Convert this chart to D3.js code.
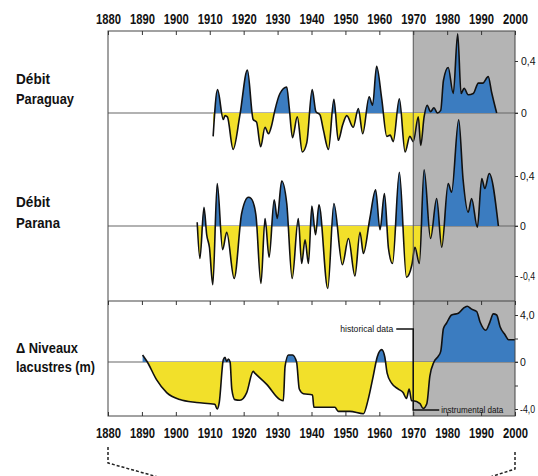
<!DOCTYPE html>
<html>
<head>
<meta charset="utf-8">
<script src="https://cdn.jsdelivr.net/npm/d3@7"></script>
<style>
  body { margin: 0; background: #fff; }
  svg { display: block; }
  .lbl { font-family: "Liberation Sans", Arial, sans-serif; font-weight: bold; font-size: 15px; fill: #111; }
  .axis text { font-family: "Liberation Sans", Arial, sans-serif; }
  .yr text { font-weight: bold; font-size: 15px; fill: #111; }
  .rt text { font-size: 10.5px; fill: #111; }
  .note { font-family: "Liberation Sans", Arial, sans-serif; font-size: 9.5px; fill: #111; }
</style>
</head>
<body>
<div class="chart"></div>
<script>
// data
var paraguayYears = [1911.0, 1912.3, 1914.0, 1914.5, 1915.2, 1916.9, 1918.9, 1921.1, 1922.8, 1923.8, 1925.0, 1926.3, 1927.3, 1928.3, 1929.2, 1930.7, 1932.7, 1933.4, 1934.4, 1935.8, 1937.3, 1938.6, 1940.2, 1941.3, 1942.5, 1943.5, 1945.0, 1946.6, 1947.9, 1949.2, 1950.4, 1952.3, 1953.8, 1955.1, 1957.0, 1958.0, 1959.2, 1960.7, 1962.2, 1963.2, 1964.1, 1965.9, 1967.6, 1969.0, 1970.0, 1971.5, 1972.2, 1973.2, 1974.1, 1975.1, 1976.1, 1977.1, 1978.1, 1978.9, 1980.3, 1981.8, 1983.1, 1984.1, 1985.0, 1986.2, 1987.7, 1989.2, 1990.5, 1992.1, 1993.1, 1994.6];
var paraguayFlow = [-0.18, 0.18, -0.05, -0.02, -0.03, -0.28, -0.015, 0.33, -0.05, -0.07, -0.26, -0.11, -0.16, -0.09, 0.02, 0.15, 0.20, 0.05, -0.19, -0.03, -0.30, -0.23, 0.18, 0.01, -0.015, -0.13, -0.28, 0.105, -0.21, -0.09, -0.02, -0.11, 0.035, -0.16, 0.125, 0.06, 0.36, 0.11, -0.18, -0.17, -0.22, 0.11, -0.30, -0.18, -0.22, -0.03, -0.25, -0.03, 0.06, 0.01, 0.04, 0.0, 0.02, 0.25, 0.35, 0.15, 0.61, 0.15, 0.19, 0.14, 0.15, 0.23, 0.23, 0.28, 0.16, 0.0];

var paranaYears = [1906.3, 1907.1, 1908.3, 1909.1, 1909.9, 1910.9, 1912.2, 1913.8, 1915.0, 1917.2, 1919.4, 1921.4, 1922.2, 1923.6, 1925.1, 1926.3, 1927.5, 1929.0, 1929.9, 1931.2, 1932.7, 1934.3, 1936.1, 1937.1, 1938.1, 1939.1, 1940.1, 1941.2, 1942.2, 1944.8, 1946.6, 1949.1, 1950.9, 1952.8, 1954.3, 1955.3, 1957.2, 1958.9, 1960.2, 1961.5, 1962.7, 1963.9, 1965.9, 1968.0, 1969.6, 1970.5, 1971.8, 1973.2, 1975.1, 1976.9, 1978.4, 1980.3, 1981.3, 1983.4, 1984.7, 1986.2, 1987.2, 1988.9, 1990.2, 1991.1, 1992.4, 1995.1];
var paranaFlow = [0.03, -0.26, 0.15, -0.07, -0.17, -0.47, 0.34, -0.19, -0.05, -0.42, 0.10, 0.23, 0.22, 0.09, -0.46, 0.06, -0.25, 0.21, 0.06, 0.36, 0.18, -0.42, 0.06, -0.30, -0.11, -0.30, 0.16, -0.07, 0.17, -0.50, 0.18, -0.31, -0.10, -0.40, -0.05, -0.22, 0.06, 0.29, -0.03, 0.26, -0.18, -0.30, 0.43, -0.41, -0.31, -0.17, -0.30, 0.45, -0.10, 0.22, -0.17, 0.34, 0.27, 0.85, 0.37, 0.11, 0.22, -0.01, 0.38, 0.30, 0.42, 0.0];

var lakeYears = [1890.2, 1891.6, 1894.3, 1897.3, 1901.2, 1906.1, 1911.5, 1912.2, 1912.8, 1914.0, 1914.5, 1915.0, 1915.5, 1916.0, 1916.5, 1917.4, 1918.9, 1920.9, 1922.8, 1923.3, 1926.8, 1930.7, 1931.7, 1932.2, 1933.2, 1934.4, 1935.6, 1936.4, 1937.6, 1940.3, 1940.7, 1946.9, 1947.9, 1951.3, 1955.3, 1956.7, 1958.2, 1959.4, 1960.7, 1961.6, 1962.3, 1963.6, 1965.6, 1967.0, 1968.0, 1968.8, 1969.5, 1970.0, 1972.0, 1972.9, 1974.0, 1974.9, 1976.1, 1977.4, 1978.1, 1978.9, 1979.8, 1981.3, 1983.3, 1984.7, 1985.9, 1987.2, 1988.7, 1989.7, 1991.4, 1992.6, 1993.6, 1994.6, 1995.6, 1997.1, 1998.1, 2000.0];
var lakeLevel = [0.6, 0, -1.5, -2.6, -3.2, -3.45, -3.6, -4.0, -3.45, 0.2, 0.4, 0.05, 0.25, 0, -2.3, -3.2, -3.25, -2.6, -0.8, -0.95, -1.9, -3.2, -3.3, -0.4, 0.6, 0.6, 0, -2.3, -2.7, -2.8, -3.85, -3.85, -4.2, -4.2, -4.4, -3.2, -1.2, 0.45, 1.05, 0.45, -0.95, -1.8, -2.3, -2.6, -3.1, -2.3, -3.3, -3.3, -3.55, -3.95, -3.55, -1.2, 0, 0.5, 0.9, 2.85, 3.3, 4.0, 4.15, 4.55, 4.75, 4.5, 4.3, 3.4, 2.7, 3.4, 4.1, 4.0, 3.0, 2.3, 1.9, 1.9];

var yearTicks = [1880, 1890, 1900, 1910, 1920, 1930, 1940, 1950, 1960, 1970, 1980, 1990, 2000];
var flowTicksParaguay = [0, 0.4];
var flowTicksParana = [-0.4, 0, 0.4];
var lakeTicks = [-4, -2, 0, 2, 4];
var lakeLabels = [-4, 0, 4];

var svgWidth = 538;
var svgHeight = 476;

// frame edges
var frame = {left: 108, right: 515, top: 31, sep: 301, bottom: 416};

var svg = d3.select(".chart")
  .append("svg")
  .attr("width", svgWidth)
  .attr("height", svgHeight);

var x = d3.scaleLinear().domain([1880, 2000]).range([frame.left, frame.right]);
var yPar = d3.scaleLinear().domain([-0.4, 0.4]).range([165, 61]);
var yPrn = d3.scaleLinear().domain([-0.4, 0.4]).range([276, 176]);
var yLake = d3.scaleLinear().domain([-4, 4]).range([409, 315]);

var comma = d3.formatLocale({decimal: ",", thousands: " ", grouping: [3], currency: ["", ""], minus: "-"});
var fmt1 = comma.format(".1f");
function tickFmt(v) { return v === 0 ? "0" : fmt1(v); }

// grey band for the instrumental period
svg.append("rect")
  .attr("x", x(1970)).attr("y", frame.top)
  .attr("width", frame.right - x(1970)).attr("height", frame.bottom - frame.top)
  .attr("fill", "#b4b4b4");

var defs = svg.append("defs");
function clip(id, y0, y1) {
  defs.append("clipPath").attr("id", id)
    .append("rect").attr("x", 0).attr("y", y0).attr("width", svgWidth).attr("height", y1 - y0);
}

// one panel: zero line, blue above, yellow below, black outline
function panel(name, years, vals, y, clipTop, clipBottom) {
  var data = years.map(function(d, i) { return {year: d, v: vals[i]}; });
  var z = y(0);
  clip(name + "-up", clipTop, z);
  clip(name + "-dn", z, clipBottom);

  var area = d3.area()
    .x(d => x(d.year))
    .y0(z)
    .y1(d => y(d.v))
    .curve(d3.curveMonotoneX);

  var line = d3.line()
    .x(d => x(d.year))
    .y(d => y(d.v))
    .curve(d3.curveMonotoneX);

  svg.append("line")
    .attr("x1", frame.left).attr("x2", frame.right + 3)
    .attr("y1", z).attr("y2", z)
    .attr("stroke", "#666").attr("stroke-width", 1.2);

  svg.append("path").datum(data)
    .attr("d", area).attr("fill", "#3b7cc0")
    .attr("clip-path", "url(#" + name + "-up)");
  svg.append("path").datum(data)
    .attr("d", area).attr("fill", "#f2e02a")
    .attr("clip-path", "url(#" + name + "-dn)");
  svg.append("path").datum(data)
    .attr("d", line).attr("fill", "none")
    .attr("stroke", "#111").attr("stroke-width", 1.6)
    .attr("stroke-linejoin", "round");
}

panel("par", paraguayYears, paraguayFlow, yPar, frame.top, frame.sep);
panel("prn", paranaYears, paranaFlow, yPrn, frame.top, frame.sep);
panel("lake", lakeYears, lakeLevel, yLake, frame.sep, frame.bottom);

// grey band edge
svg.append("line")
  .attr("x1", x(1970)).attr("x2", x(1970))
  .attr("y1", frame.top).attr("y2", frame.bottom)
  .attr("stroke", "#555").attr("stroke-width", 1);

// frame
svg.append("rect")
  .attr("x", frame.left).attr("y", frame.top)
  .attr("width", frame.right - frame.left).attr("height", frame.bottom - frame.top)
  .attr("fill", "none").attr("stroke", "#444").attr("stroke-width", 1);
svg.append("line")
  .attr("x1", frame.left).attr("x2", frame.right)
  .attr("y1", frame.sep).attr("y2", frame.sep)
  .attr("stroke", "#444").attr("stroke-width", 1.2);

// year axes
var topAxis = d3.axisTop(x).tickValues(yearTicks).tickFormat(d3.format("d"))
  .tickSizeInner(-4).tickSizeOuter(0).tickPadding(7);
svg.append("g").attr("class", "axis yr")
  .attr("transform", `translate(0, ${frame.top})`)
  .call(topAxis);

var bottomAxis = d3.axisBottom(x).tickValues(yearTicks).tickFormat(d3.format("d"))
  .tickSizeInner(-4).tickSizeOuter(0).tickPadding(11);
svg.append("g").attr("class", "axis yr")
  .attr("transform", `translate(0, ${frame.bottom})`)
  .call(bottomAxis);

svg.selectAll(".yr text")
  .attr("textLength", 25).attr("lengthAdjust", "spacingAndGlyphs");

var sepAxis = d3.axisBottom(x).tickValues(yearTicks).tickFormat("")
  .tickSizeInner(4).tickSizeOuter(0);
svg.append("g").attr("class", "axis")
  .attr("transform", `translate(0, ${frame.sep})`)
  .call(sepAxis);

// right axes
svg.append("g").attr("class", "axis rt")
  .attr("transform", `translate(${frame.right}, 0)`)
  .call(d3.axisRight(yPar).tickValues(flowTicksParaguay).tickFormat(tickFmt).tickSize(3).tickPadding(3));
svg.append("g").attr("class", "axis rt")
  .attr("transform", `translate(${frame.right}, 0)`)
  .call(d3.axisRight(yPrn).tickValues(flowTicksParana).tickFormat(tickFmt).tickSize(3).tickPadding(2));
svg.append("g").attr("class", "axis rt")
  .attr("transform", `translate(${frame.right}, 0)`)
  .call(d3.axisRight(yLake).tickValues(lakeTicks)
    .tickFormat(d => lakeLabels.indexOf(d) >= 0 ? tickFmt(d) : "").tickSize(3).tickPadding(2));

// squeeze the negative labels so they fit inside the window
svg.selectAll(".rt text")
  .filter(function() { return this.textContent.charAt(0) === "-"; })
  .attr("textLength", 15).attr("lengthAdjust", "spacingAndGlyphs");

svg.selectAll(".axis .domain").remove();
svg.selectAll(".axis line").attr("stroke", "#333");

// panel names, squeezed to look like the condensed original
function label(lines, widths, x0, y0, dy) {
  var t = svg.append("text").attr("class", "lbl");
  lines.forEach(function(s, i) {
    t.append("tspan").attr("x", x0).attr("y", y0 + i * dy)
      .attr("textLength", widths[i]).attr("lengthAdjust", "spacingAndGlyphs")
      .text(s);
  });
}
label(["Débit", "Paraguay"], [34, 58], 16, 84, 20);
label(["Débit", "Parana"], [34, 44], 16, 207, 21);
label(["\u0394 Niveaux", "lacustres (m)"], [62, 79], 16, 353, 19);

// historical / instrumental notes
var xs = x(1970);
svg.append("path")
  .attr("d", `M${xs - 17},329 H${xs} V410 H${xs + 26}`)
  .attr("fill", "none").attr("stroke", "#111").attr("stroke-width", 1.5);
svg.append("text").attr("class", "note")
  .attr("x", xs - 20).attr("y", 332).attr("text-anchor", "end")
  .attr("textLength", 53).attr("lengthAdjust", "spacingAndGlyphs")
  .text("historical data");
svg.append("text").attr("class", "note")
  .attr("x", xs + 28).attr("y", 413)
  .attr("textLength", 62).attr("lengthAdjust", "spacingAndGlyphs")
  .text("instrumental data");

// dashed connectors under the chart
svg.append("path")
  .attr("d", `M${frame.left},447 V463 L${frame.left + 50},477`)
  .attr("fill", "none").attr("stroke", "#222").attr("stroke-width", 1.5)
  .attr("stroke-dasharray", "3,2");
svg.append("path")
  .attr("d", `M${frame.right},452 V469 L${frame.right - 28},478`)
  .attr("fill", "none").attr("stroke", "#222").attr("stroke-width", 1.5)
  .attr("stroke-dasharray", "3,2");
</script>
</body>
</html>
